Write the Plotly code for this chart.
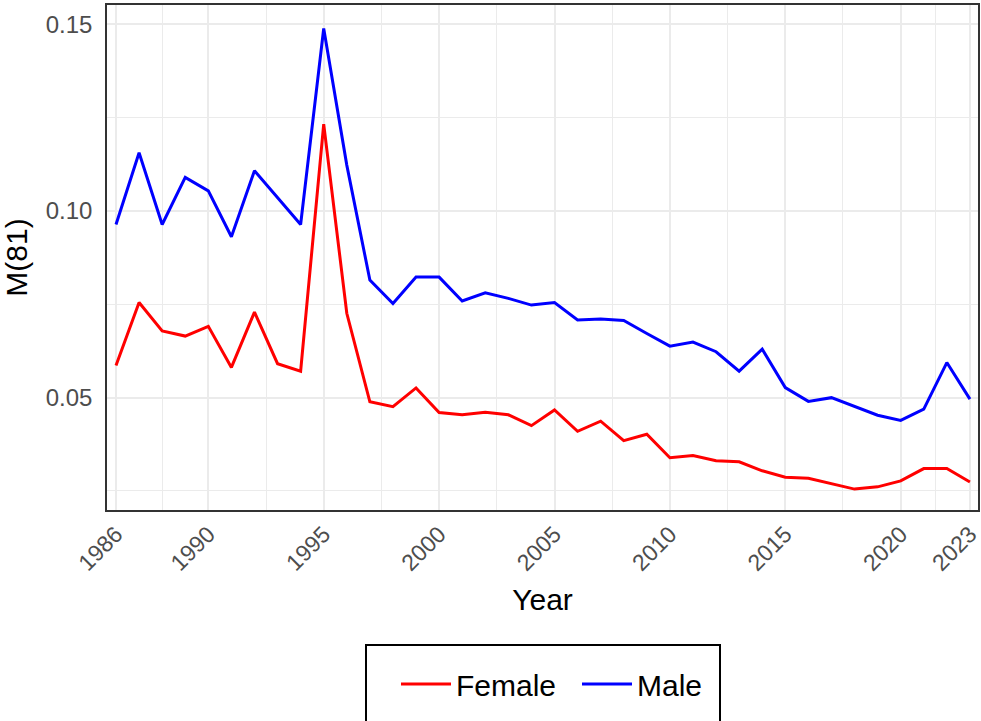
import plotly.graph_objects as go

years = list(range(1986, 2024))
female = [0.0586, 0.0755, 0.0679, 0.0665, 0.0691, 0.0581, 0.0729, 0.0591, 0.0571, 0.1233,
          0.0726, 0.0489, 0.0476, 0.0526, 0.0460, 0.0454, 0.0461, 0.0454, 0.0425, 0.0467,
          0.0410, 0.0437, 0.0385, 0.0402, 0.0339, 0.0345, 0.0331, 0.0328, 0.0304, 0.0287,
          0.0284, 0.0269, 0.0255, 0.0261, 0.0277, 0.0310, 0.0310, 0.0274]
male = [0.0964, 0.1156, 0.0964, 0.1090, 0.1054, 0.0931, 0.1108, 0.1036, 0.0964, 0.1489,
        0.1123, 0.0815, 0.0752, 0.0823, 0.0823, 0.0759, 0.0781, 0.0766, 0.0748, 0.0755,
        0.0708, 0.0711, 0.0707, 0.0672, 0.0638, 0.0649, 0.0623, 0.0571, 0.0630, 0.0527,
        0.0490, 0.0500, 0.0476, 0.0453, 0.0439, 0.0469, 0.0594, 0.0496]
x_ticks = [1986, 1990, 1995, 2000, 2005, 2010, 2015, 2020, 2023]
y_ticks = [0.05, 0.10, 0.15]
y_tick_labels = ["0.05", "0.10", "0.15"]

x_minor = [(a + b) / 2 for a, b in zip(x_ticks[:-1], x_ticks[1:])]
y_minor = [0.025, 0.075, 0.125]

FONT = "Liberation Sans, Arial, sans-serif"

fig = go.Figure()
fig.add_trace(go.Scatter(x=years, y=female, mode="lines", name="Female",
                         line=dict(color="#ff0000", width=3)))
fig.add_trace(go.Scatter(x=years, y=male, mode="lines", name="Male",
                         line=dict(color="#0000ff", width=3)))

W, H = 981, 721
L, R, T, B = 107, 3, 5, 211
pw, ph = W - L - R, H - T - B

def px_x(p):
    return (p - L) / pw

def px_y(p):
    return (H - B - p) / ph

fig.update_layout(
    width=W, height=H,
    margin=dict(l=L, r=R, t=T, b=B, autoexpand=False),
    paper_bgcolor="white", plot_bgcolor="white",
    font=dict(family=FONT, color="black"),
    showlegend=True,
    legend=dict(orientation="h", xref="container", yref="container",
                x=396 / W, xanchor="left", y=(H - 684) / H, yanchor="middle",
                font=dict(size=30, color="black"), bgcolor="rgba(0,0,0,0)",
                borderwidth=0, entrywidth=116, itemwidth=50),
    xaxis=dict(range=[1985.61, 2023.35], tickmode="array", tickvals=x_ticks,
               ticktext=[str(v) for v in x_ticks], tickangle=-45,
               tickfont=dict(size=23, color="#4d4d4d"), ticks="",
               automargin=False, ticklabeloverflow="allow",
               showgrid=True, gridcolor="#ebebeb", gridwidth=2,
               minor=dict(tickmode="array", tickvals=x_minor, showgrid=True,
                          gridcolor="#ebebeb", gridwidth=1),
               showline=True, linecolor="#333333", linewidth=1.5, mirror=True,
               zeroline=False,
               title=dict(text="Year", font=dict(size=30, color="black"), standoff=14)),
    yaxis=dict(range=[0.0199, 0.1552], tickmode="array", tickvals=y_ticks,
               ticktext=y_tick_labels,
               tickfont=dict(size=24, color="#4d4d4d"), ticks="",
               ticklabelstandoff=8, automargin=False,
               showgrid=True, gridcolor="#ebebeb", gridwidth=2,
               minor=dict(tickmode="array", tickvals=y_minor, showgrid=True,
                          gridcolor="#ebebeb", gridwidth=1),
               showline=True, linecolor="#333333", linewidth=1.5, mirror=True,
               zeroline=False,
               title=dict(text="M(81)", font=dict(size=30, color="black"), standoff=9)),
    shapes=[dict(type="rect", xref="paper", yref="paper",
                 x0=px_x(366), x1=px_x(720), y0=px_y(645), y1=px_y(760),
                 line=dict(color="black", width=2), fillcolor="rgba(0,0,0,0)")],
)

fig.write_html("out.html", config={"displayModeBar": False},
               post_script="document.body.style.margin='0';document.body.style.overflow='hidden';")
